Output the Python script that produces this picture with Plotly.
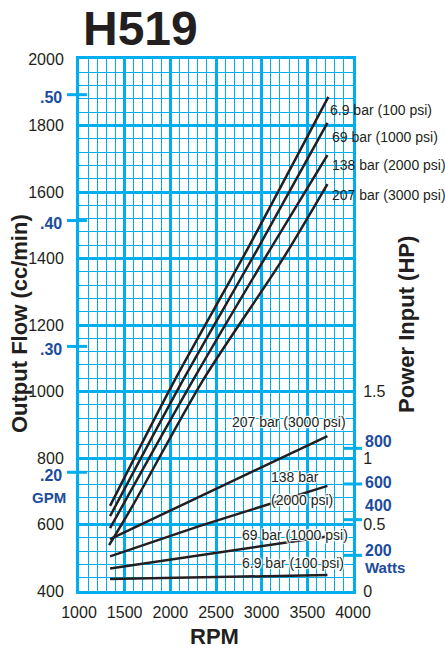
import plotly.graph_objects as go

# ---------------- data ----------------
rpm_ticks = [1000, 1500, 2000, 2500, 3000, 3500, 4000]
flow_ticks = [400, 600, 800, 1000, 1200, 1400, 1600, 1800, 2000]
hp_ticks = [0, 0.5, 1, 1.5]
hp_tick_text = ["0", "0.5", "1", "1.5"]
gpm_marks = [0.20, 0.30, 0.40, 0.50]
gpm_text = [".20", ".30", ".40", ".50"]
watt_marks = [200, 400, 600, 800]

# output flow (cc/min) vs RPM
flow_rpm_6_9 = [1340, 2050, 2840, 3730]
flow_cc_6_9 = [656, 1035, 1426, 1886]
flow_rpm_69 = [1340, 2140, 2950, 3720]
flow_cc_69 = [625, 1035, 1426, 1808]
flow_rpm_138 = [1340, 2250, 3090, 3720]
flow_cc_138 = [589, 1035, 1426, 1711]
flow_rpm_207 = [1330, 1580, 2360, 3230, 3720]
flow_cc_207 = [538, 653, 1035, 1398, 1624]

# power input (HP) vs RPM
pow_rpm_6_9 = [1340, 3720]
pow_hp_6_9 = [0.09, 0.12]
pow_rpm_69 = [1340, 3150, 3720]
pow_hp_69 = [0.17, 0.35, 0.41]
pow_rpm_138 = [1340, 2325, 3720]
pow_hp_138 = [0.26, 0.49, 0.79]
pow_rpm_207 = [1340, 2325, 3720]
pow_hp_207 = [0.39, 0.71, 1.165]

CC_PER_GAL = 3785.41
W_PER_HP = 745.7

# ---------------- style ----------------
CYAN = "#00aeef"
BLUE = "#1c4c9c"
INK = "#231f20"
SANS = "Liberation Sans, Arial, Helvetica, sans-serif"

fig = go.Figure()

for xs, ys in [(flow_rpm_6_9, flow_cc_6_9), (flow_rpm_69, flow_cc_69),
               (flow_rpm_138, flow_cc_138), (flow_rpm_207, flow_cc_207)]:
    fig.add_trace(go.Scatter(x=xs, y=ys, mode="lines", yaxis="y",
                             line=dict(color=INK, width=2.5, shape="spline", smoothing=0.8),
                             showlegend=False, hoverinfo="skip"))
for xs, ys in [(pow_rpm_6_9, pow_hp_6_9), (pow_rpm_69, pow_hp_69),
               (pow_rpm_138, pow_hp_138), (pow_rpm_207, pow_hp_207)]:
    fig.add_trace(go.Scatter(x=xs, y=ys, mode="lines", yaxis="y2",
                             line=dict(color=INK, width=2.5), showlegend=False,
                             hoverinfo="skip"))

tickfont = dict(family=SANS, size=16, color=INK)

fig.update_layout(
    width=445, height=649,
    margin=dict(l=79, r=92, t=59, b=58),
    paper_bgcolor="white", plot_bgcolor="white",
    xaxis=dict(range=[1000, 4000], tickvals=rpm_ticks, showgrid=True,
               gridcolor=CYAN, gridwidth=3,
               minor=dict(dtick=100, tick0=1000, showgrid=True, gridcolor=CYAN, gridwidth=1.3),
               showline=True, linecolor=CYAN, linewidth=3, mirror=True,
               ticks="outside", ticklen=5, tickcolor="rgba(0,0,0,0)",
               tickfont=tickfont, zeroline=False),
    yaxis=dict(range=[400, 2000], tickvals=flow_ticks, showgrid=True,
               gridcolor=CYAN, gridwidth=3,
               minor=dict(dtick=40, tick0=400, showgrid=True, gridcolor=CYAN, gridwidth=1.3),
               showline=True, linecolor=CYAN, linewidth=3, mirror=True,
               ticks="outside", ticklen=9, tickcolor="rgba(0,0,0,0)",
               tickfont=tickfont, zeroline=False),
    yaxis2=dict(range=[0, 4], overlaying="y", side="right", tickvals=hp_ticks,
                ticktext=hp_tick_text, showgrid=False, showline=False, zeroline=False,
                ticks="outside", ticklen=6, tickcolor="rgba(0,0,0,0)", tickfont=tickfont),
)

shapes = []
for g in gpm_marks:
    shapes.append(dict(type="line", xref="paper", yref="y", x0=-0.044, x1=0.029,
                       y0=g * CC_PER_GAL, y1=g * CC_PER_GAL,
                       line=dict(color=CYAN, width=3), layer="above"))
for w in watt_marks:
    shapes.append(dict(type="line", xref="paper", yref="y2", x0=0.9635, x1=1.033,
                       y0=w / W_PER_HP, y1=w / W_PER_HP,
                       line=dict(color=CYAN, width=3), layer="above"))
fig.update_layout(shapes=shapes)

ann = []


def add(text, x, y, font, xanchor="center", yanchor="middle", yref="paper", **kw):
    ann.append(dict(text=text, xref="paper", yref=yref, x=x, y=y, xanchor=xanchor,
                    yanchor=yanchor, showarrow=False, font=font, **kw))


add("<b>H519</b>", 0.223, 1.058, dict(family=SANS, size=48, color=INK))
add("<b>Output Flow (cc/min)</b>", -0.215, 0.502, dict(family=SANS, size=22, color=INK),
    textangle=-90)
add("<b>Power Input (HP)</b>", 1.197, 0.502, dict(family=SANS, size=22, color=INK),
    textangle=-90)
add("<b>RPM</b>", 0.496, -0.085, dict(family=SANS, size=22, color=INK))

lab_font = dict(family=SANS, size=14, color=INK)
halo = "1px 1px 1px white, -1px -1px 1px white, 1px -1px 1px white, -1px 1px 1px white, 0 0 2px white"
halo_font = dict(family=SANS, size=14, color=INK, shadow=halo)

for txt, x, y in [("6.9 bar (100 psi)", 0.909, 0.904),
                  ("69 bar (1000 psi)", 0.916, 0.853),
                  ("138 bar (2000 psi)", 0.916, 0.801),
                  ("207 bar (3000 psi)", 0.916, 0.744)]:
    add(txt, x, y, lab_font, xanchor="left")

for txt, x, y in [("207 bar (3000 psi)", 0.551, 0.318),
                  ("138 bar", 0.693, 0.214),
                  ("(2000 psi)", 0.693, 0.171),
                  ("69 bar (1000 psi)", 0.588, 0.105),
                  ("6.9 bar (100 psi)", 0.588, 0.053)]:
    add(txt, x, y, halo_font, xanchor="left")

blue_font = dict(family=SANS, size=16, color=BLUE)
small_blue = dict(family=SANS, size=15, color=BLUE)
for g, t in zip(gpm_marks, gpm_text):
    add("<b>" + t + "</b>", -0.0547, g * CC_PER_GAL, blue_font, xanchor="right",
        yref="y", yshift=-3)
add("<b>GPM</b>", -0.040, 0.175, small_blue, xanchor="right")

watt_shift = [5, 14, 1, 7]
for w, s in zip(watt_marks, watt_shift):
    add("<b>%d</b>" % w, 1.036, w / W_PER_HP, blue_font, xanchor="left",
        yref="y2", yshift=s)
add("<b>Watts</b>", 1.036, 0.045, small_blue, xanchor="left")

fig.update_layout(annotations=ann)

# remove the browser's default 8px body margin so the 445x649 figure fills the window
fig.write_html("out.html",
               config={"displayModeBar": False},
               post_script="document.body.style.margin='0';"
                           "document.body.style.overflow='hidden';")
